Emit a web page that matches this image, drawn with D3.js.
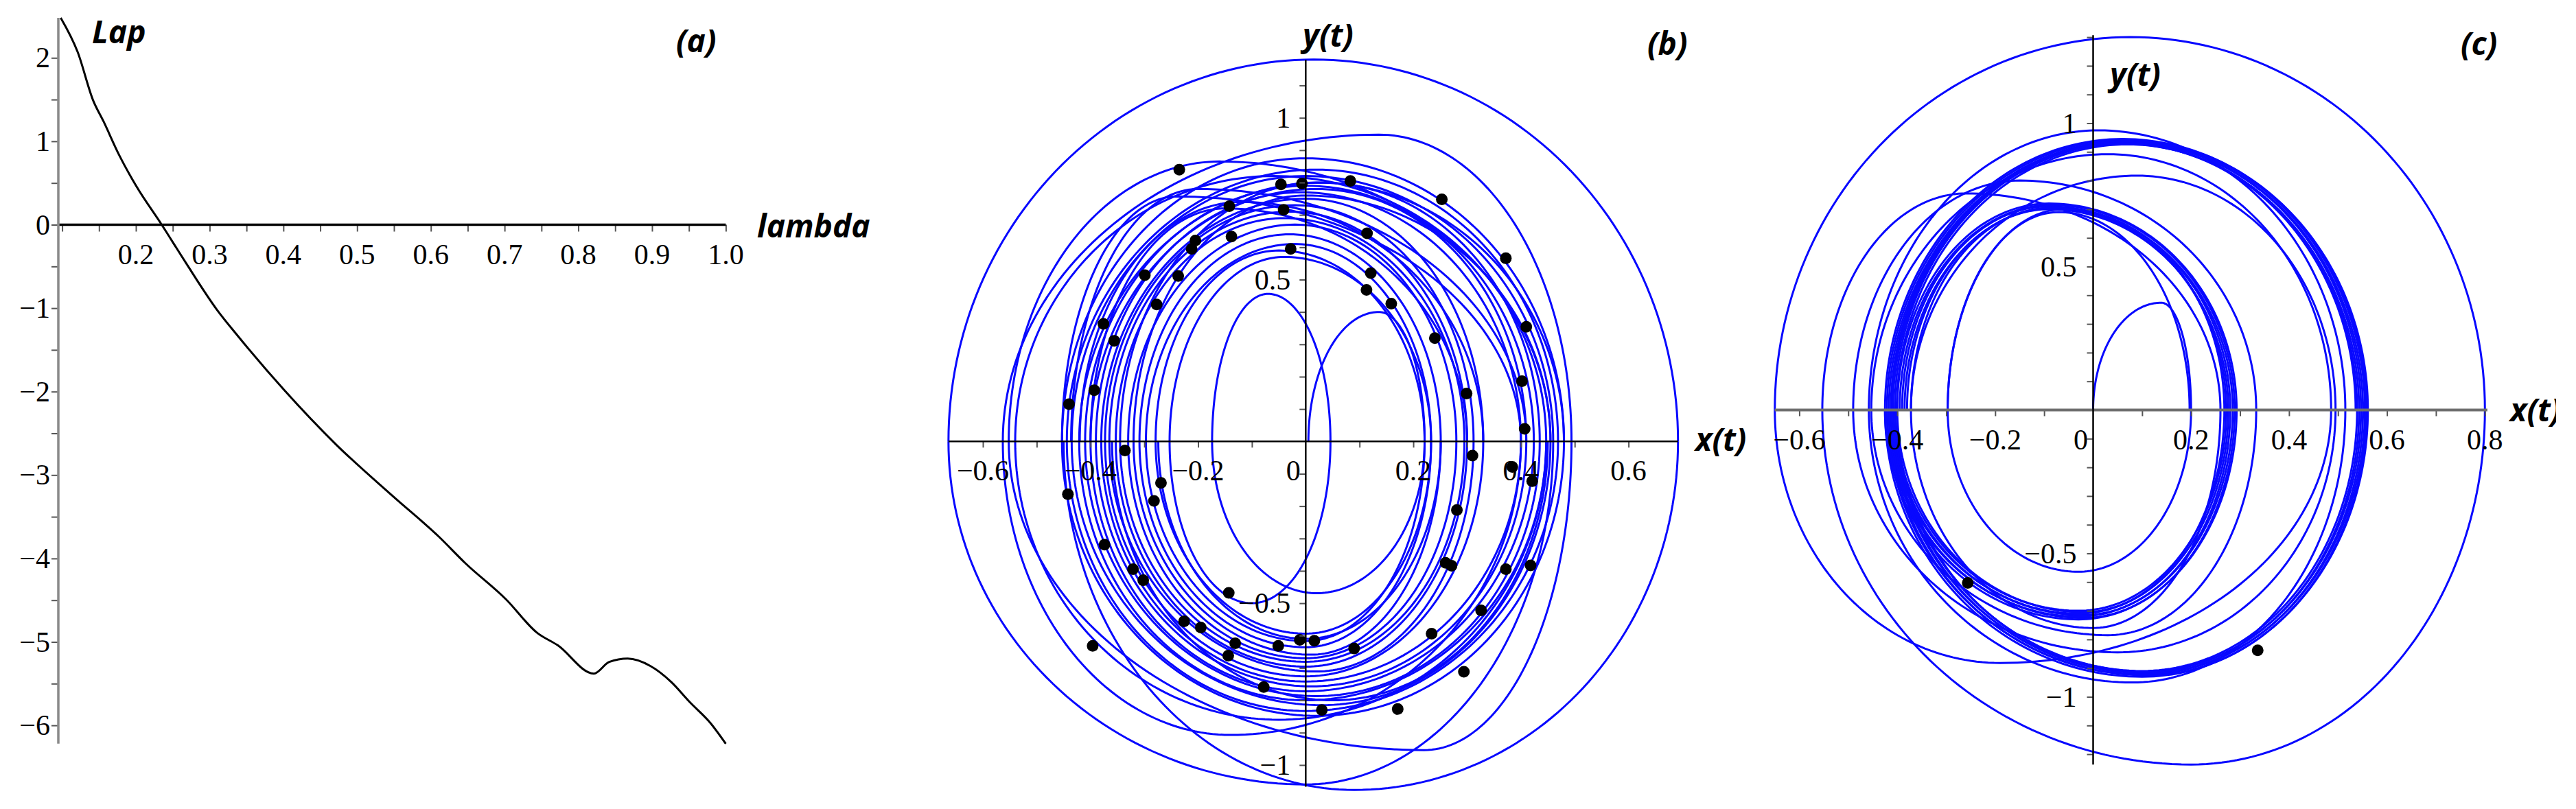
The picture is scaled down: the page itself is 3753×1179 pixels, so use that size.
<!DOCTYPE html>
<html><head><meta charset="utf-8">
<script src="https://cdn.jsdelivr.net/npm/d3@7"></script>
<style>body{margin:0;background:#fff}svg{display:block}</style>
</head><body>
<svg id="chart" width="3753" height="1179"></svg>
<script>
// ---------- DATA ----------
// Panel (a): Lyapunov exponent vs lambda
const lapLambda = [0.098,0.121,0.142,0.156,0.177,0.2,0.235,0.268,0.31,0.338,0.401,0.471,0.548,0.611,0.646,0.702,0.744,0.772,0.821,0.842,0.867,0.898,0.926,0.951,0.979,1.0];
const lapValue  = [2.48,2.07,1.49,1.24,0.84,0.47,0.0,-0.46,-1.02,-1.33,-1.98,-2.63,-3.25,-3.74,-4.05,-4.49,-4.89,-5.04,-5.38,-5.24,-5.20,-5.29,-5.48,-5.72,-5.97,-6.22];
const aXTickLabels = [0.2,0.3,0.4,0.5,0.6,0.7,0.8,0.9,1.0];
const aYTickLabels = [2,1,0,-1,-2,-3,-4,-5,-6];

// Panel (b): half-loops of the trajectory [x start, x of apex, x end, apex y]
const bUpperArcs = [
 [0.005,0.136,0.221,0.40],[-0.174,-0.07,0.046,0.456],[-0.664,0.015,0.692,1.18],[-0.563,0.136,0.494,0.948],
 [-0.552,-0.16,0.455,0.865],[-0.54,-0.06,0.447,0.82],[-0.453,0.0,0.48,0.875],[-0.444,0.02,0.469,0.84],
 [-0.435,0.0,0.46,0.82],[-0.421,0.03,0.435,0.80],[-0.41,0.0,0.424,0.79],[-0.40,0.02,0.41,0.78],
 [-0.39,-0.01,0.40,0.77],[-0.38,0.0,0.33,0.75],[-0.373,-0.02,0.312,0.73],[-0.365,-0.03,0.30,0.71],
 [-0.353,-0.04,0.295,0.69],[-0.345,0.02,0.48,0.80],[-0.33,-0.02,0.28,0.67],[-0.32,0.0,0.455,0.76],
 [-0.309,-0.03,0.251,0.64],[-0.297,-0.02,0.233,0.61],[-0.279,-0.05,0.221,0.59],[-0.253,-0.04,0.233,0.57],
 [-0.40,-0.15,0.30,0.72],[-0.42,-0.12,0.33,0.74],[-0.453,-0.24,0.40,0.757],[-0.436,-0.2,0.41,0.78]
];
const bLowerArcs = [
 [-0.174,0.02,0.221,-0.469],[-0.253,-0.10,0.046,-0.50],[-0.664,0.0,0.46,-1.06],[-0.45,0.09,0.692,-1.077],
 [-0.563,-0.14,0.40,-0.907],[-0.552,0.22,0.494,-0.954],[-0.54,-0.05,0.447,-0.86],[-0.453,0.02,0.48,-0.848],
 [-0.444,0.0,0.469,-0.833],[-0.435,0.03,0.455,-0.815],[-0.421,0.0,0.447,-0.80],[-0.41,0.02,0.435,-0.787],
 [-0.40,0.0,0.424,-0.772],[-0.39,0.01,0.41,-0.757],[-0.38,0.0,0.40,-0.742],[-0.373,0.0,0.33,-0.726],
 [-0.365,0.02,0.312,-0.711],[-0.353,0.0,0.30,-0.696],[-0.345,0.0,0.295,-0.681],[-0.33,0.0,0.28,-0.67],
 [-0.32,0.01,0.251,-0.659],[-0.309,0.0,0.233,-0.636],[-0.297,0.0,0.221,-0.617],[-0.279,0.0,0.233,-0.594],
 [-0.274,0.0,0.251,-0.61],[-0.36,0.05,0.45,-0.80]
];
const bDotsX = [-0.235,-0.046,-0.007,0.083,0.253,-0.142,-0.041,0.372,-0.205,-0.212,-0.138,0.114,-0.028,-0.299,-0.237,0.121,0.113,0.159,-0.277,-0.376,-0.356,0.410,0.240,0.402,-0.393,-0.44,0.299,0.407,-0.336,0.310,0.384,-0.269,0.421,-0.442,-0.282,0.281,-0.374,0.26,0.271,-0.321,-0.302,0.372,0.418,-0.143,0.326,-0.226,-0.195,0.234,-0.131,-0.011,0.016,-0.051,0.090,-0.144,-0.396,0.294,-0.078,0.030,0.171];
const bDotsY = [0.840,0.794,0.797,0.805,0.748,0.727,0.716,0.566,0.621,0.595,0.633,0.643,0.595,0.514,0.511,0.520,0.468,0.426,0.423,0.363,0.311,0.354,0.319,0.186,0.158,0.115,0.148,0.039,-0.028,-0.044,-0.079,-0.128,-0.123,-0.163,-0.184,-0.212,-0.319,-0.375,-0.384,-0.395,-0.429,-0.395,-0.383,-0.468,-0.522,-0.556,-0.575,-0.594,-0.624,-0.613,-0.616,-0.632,-0.640,-0.662,-0.632,-0.712,-0.759,-0.830,-0.827];
const bXTickLabels = [-0.6,-0.4,-0.2,0,0.2,0.4,0.6];
const bYTickLabels = [1,0.5,-0.5,-1];

// Panel (c)
const cUpperArcs = [
 [0.0,0.139,0.2,0.374],[-0.65,0.076,0.80,1.30],[-0.458,0.011,0.515,0.975],[-0.453,0.03,0.486,0.892],
 [-0.425,0.06,0.561,0.945],[-0.421,0.065,0.558,0.942],[-0.417,0.07,0.555,0.938],[-0.413,0.065,0.551,0.935],
 [-0.409,0.07,0.547,0.932],[-0.405,0.06,0.543,0.929],[-0.401,0.07,0.539,0.926],[-0.41,0.06,0.536,0.93],
 [-0.553,-0.26,0.26,0.755],[-0.49,-0.15,0.333,0.80],[-0.372,0.09,0.495,0.817],
 [-0.40,-0.09,0.293,0.72],[-0.395,-0.085,0.289,0.715],[-0.39,-0.09,0.285,0.71],[-0.385,-0.08,0.28,0.705],
 [-0.38,-0.09,0.276,0.70],[-0.372,-0.085,0.272,0.705],[-0.297,-0.06,0.268,0.70],[-0.297,-0.07,0.197,0.69]
];
const cLowerArcs = [
 [-0.297,-0.03,0.2,-0.564],
 [-0.425,-0.03,0.293,-0.73],[-0.421,-0.02,0.289,-0.725],[-0.417,-0.03,0.285,-0.72],[-0.413,-0.02,0.28,-0.715],
 [-0.409,-0.03,0.276,-0.71],[-0.405,-0.03,0.272,-0.70],[-0.40,-0.02,0.268,-0.705],
 [-0.372,0.0,0.26,-0.76],[-0.453,0.03,0.333,-0.785],
 [-0.425,0.10,0.561,-0.93],[-0.421,0.11,0.558,-0.925],[-0.417,0.10,0.555,-0.922],[-0.413,0.11,0.551,-0.918],
 [-0.409,0.10,0.547,-0.915],[-0.405,0.11,0.543,-0.912],[-0.401,0.10,0.539,-0.91],
 [-0.458,0.08,0.515,-0.95],[-0.49,0.05,0.495,-0.845],[-0.65,-0.19,0.486,-0.882],[-0.553,0.2,0.80,-1.236]
];
const cDotsX = [-0.256,0.336];
const cDotsY = [-0.603,-0.838];
const cXTickLabels = [-0.6,-0.4,-0.2,0,0.2,0.4,0.6,0.8];
const cYTickLabels = [1,0.5,-0.5,-1];

// ---------- DRAWING ----------
const svg = d3.select("#chart");
svg.append("rect").attr("width",3753).attr("height",1179).attr("fill","#fff");
const SERIF = "'Liberation Serif','Times New Roman',serif";
const SANS = "'Open Sans','DejaVu Sans',sans-serif";
const BLUE = "#0808ff";
const fmt = v => (v < 0 ? "\u2212" : "") + String(Math.abs(v));
const range = (a,b,s) => d3.range(Math.round(a/s), Math.round(b/s)+1).map(i => +(i*s).toFixed(4));

function bigLabel(txt, x, y) {
  svg.append("text").attr("x",x).attr("y",y).text(txt)
    .attr("font-family",SANS).attr("font-weight",700).attr("font-style","italic")
    .attr("font-size",46).attr("fill","#000");
}

function ticks(g) { g.select(".domain").remove(); g.selectAll(".tick line").attr("stroke","#555").attr("stroke-width",2); g.selectAll(".tick text").remove(); }

function drawAxes(x, y, cfg) {
  svg.append("g").attr("transform",`translate(0,${y(0)})`)
    .call(d3.axisBottom(x).tickValues(cfg.xTicks).tickSize(cfg.tick).tickFormat("")).call(ticks);
  svg.append("g").attr("transform",`translate(${x(cfg.yAxisAt)},0)`)
    .call(d3.axisLeft(y).tickValues(cfg.yTicks).tickSize(cfg.tick).tickFormat("")).call(ticks);
  svg.append("line").attr("x1",x(cfg.xExt[0])).attr("x2",x(cfg.xExt[1])).attr("y1",y(0)).attr("y2",y(0))
    .attr("stroke",cfg.xColor).attr("stroke-width",cfg.xWidth);
  svg.append("line").attr("x1",x(cfg.yAxisAt)).attr("x2",x(cfg.yAxisAt)).attr("y1",y(cfg.yExt[0])).attr("y2",y(cfg.yExt[1]))
    .attr("stroke",cfg.yColor).attr("stroke-width",cfg.yWidth);
  svg.append("g").selectAll("text").data(cfg.xLabels).join("text")
    .attr("x",d => x(d) + (d === 0 ? cfg.zeroShift : 0)).attr("y",y(0)+57)
    .attr("text-anchor","middle").attr("font-family",SERIF).attr("font-size",42).attr("fill","#000")
    .text(d => cfg.xFmt ? cfg.xFmt(d) : fmt(d));
  svg.append("g").selectAll("text").data(cfg.yLabels).join("text")
    .attr("x",x(cfg.yAxisAt)-cfg.yLabelGap).attr("y",d => y(d)+14)
    .attr("text-anchor","end").attr("font-family",SERIF).attr("font-size",42).attr("fill","#000")
    .text(d => fmt(d));
}

function arcPoints(a) {
  const [xl, xa, xr, h] = a;
  const pts = [];
  const n = 60;
  for (let i = 0; i <= n; i++) { const t = i/n*Math.PI/2; pts.push([xa - (xa-xl)*Math.cos(t), h*Math.sin(t)]); }
  for (let i = 1; i <= n; i++) { const t = i/n*Math.PI/2; pts.push([xa + (xr-xa)*Math.sin(t), h*Math.cos(t)]); }
  return pts;
}

function drawPortrait(x, y, upper, lower, dx, dy) {
  const line = d3.line().x(d => x(d[0])).y(d => y(d[1]));
  const g = svg.append("g");
  g.selectAll("path.u").data(upper).join("path").attr("class","u")
    .attr("d", d => line(arcPoints(d))).attr("fill","none").attr("stroke",BLUE).attr("stroke-width",3);
  g.selectAll("path.l").data(lower).join("path").attr("class","l")
    .attr("d", d => line(arcPoints(d))).attr("fill","none").attr("stroke",BLUE).attr("stroke-width",3);
  g.selectAll("circle").data(dx.map((v,i) => [v, dy[i]])).join("circle")
    .attr("cx", d => x(d[0])).attr("cy", d => y(d[1])).attr("r",8.5).attr("fill","#000");
}

// ----- Panel (a)
{
  const x = d3.scaleLinear().domain([0.2,1.0]).range([198,1057.4]);
  const y = d3.scaleLinear().domain([0,-6]).range([327.5,1057.1]);
  drawAxes(x, y, {
    xTicks: range(0.1,1.0,0.05), yTicks: range(-6,2,0.5), tick: 10, yAxisAt: 0.0948,
    xExt:[0.0948,1.0], yExt:[2.48,-6.22], xColor:"#000", xWidth:3.5, yColor:"#8a8a8a", yWidth:3.5,
    xLabels: aXTickLabels, yLabels: aYTickLabels, zeroShift:0, yLabelGap:12,
    xFmt: d => d.toFixed(1)
  });
  svg.append("path").datum(lapLambda.map((l,i)=>[l,lapValue[i]]))
    .attr("d", d3.line().x(d=>x(d[0])).y(d=>y(d[1])).curve(d3.curveMonotoneX))
    .attr("fill","none").attr("stroke","#000").attr("stroke-width",3);
  bigLabel("Lap",134,63);
  bigLabel("(a)",985,76);
  bigLabel("lambda",1103,346);
}

// ----- Panel (b)
{
  const x = d3.scaleLinear().domain([0,0.6]).range([1902.3,2372.6]);
  const y = d3.scaleLinear().domain([0,1]).range([643.3,171.7]);
  drawPortrait(x, y, bUpperArcs, bLowerArcs, bDotsX, bDotsY);
  drawAxes(x, y, {
    xTicks: range(-0.6,0.6,0.1).filter(v=>v!==0), yTicks: range(-1,1.1,0.1).filter(v=>v!==0), tick: 9, yAxisAt: 0,
    xExt:[-0.664,0.692], yExt:[1.179,-1.067], xColor:"#000", xWidth:2.5, yColor:"#000", yWidth:2.5,
    xLabels: bXTickLabels, yLabels: bYTickLabels, zeroShift:-18, yLabelGap:22
  });
  bigLabel("y(t)",1898,68);
  bigLabel("(b)",2400,80);
  bigLabel("x(t)",2470,657);
}

// ----- Panel (c)
{
  const x = d3.scaleLinear().domain([0,0.8]).range([3049.5,3620.3]);
  const y = d3.scaleLinear().domain([0,1]).range([597.5,179.5]);
  drawPortrait(x, y, cUpperArcs, cLowerArcs, cDotsX, cDotsY);
  drawAxes(x, y, {
    xTicks: range(-0.6,0.8,0.1).filter(v=>v!==0), yTicks: range(-1.2,1.3,0.1).filter(v=>v!==0), tick: 9, yAxisAt: 0,
    xExt:[-0.65,0.805], yExt:[1.307,-1.236], xColor:"#6e6e6e", xWidth:4, yColor:"#000", yWidth:2.5,
    xLabels: cXTickLabels, yLabels: cYTickLabels, zeroShift:-18, yLabelGap:24
  });
  bigLabel("y(t)",3074,125);
  bigLabel("(c)",3585,80);
  svg.append("clipPath").attr("id","cx").append("rect").attr("x",3600).attr("y",550).attr("width",124).attr("height",100);
  svg.append("text").attr("x",3657).attr("y",614).text("x(t)")
    .attr("font-family",SANS).attr("font-weight",700).attr("font-style","italic")
    .attr("font-size",46).attr("fill","#000").attr("clip-path","url(#cx)");
}
</script>
</body></html>
